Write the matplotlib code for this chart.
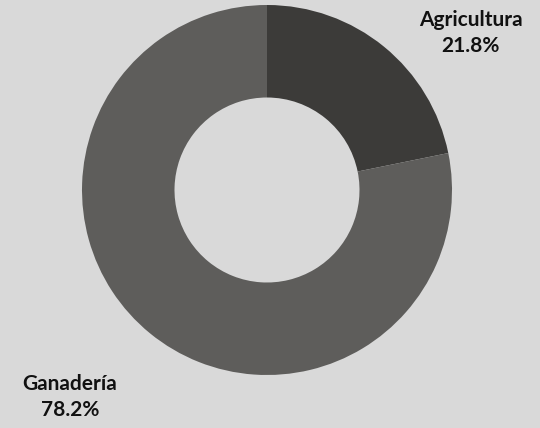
import matplotlib.pyplot as plt

labels = ['Agricultura', 'Ganadería']
values = [21.8, 78.2]
colors = ['#3c3b39', '#5e5d5b']
bg = '#d9d9d9'

fig = plt.figure(figsize=(5.4, 4.28), dpi=100, facecolor=bg)
ax = fig.add_axes([82/540, 53/428, 370/540, 370/428])
ax.set_facecolor(bg)

ax.pie(values, colors=colors, startangle=90, counterclock=False, radius=1,
       wedgeprops=dict(width=0.5, linewidth=0))
ax.set_xlim(-1, 1)
ax.set_ylim(-1, 1)
ax.set_aspect('equal')
ax.axis('off')

# label positions in data units (outside the ring)
pos = [(1.10, 0.85), (-1.065, -1.12)]
for lab, v, (x, y) in zip(labels, values, pos):
    ax.text(x, y, f'{lab}\n{v}%', ha='center', va='center', fontsize=15,
            fontweight='bold', family='Lato', color='#111111',
            linespacing=1.4, clip_on=False)

fig.savefig('out.png', dpi=100, facecolor=bg)
